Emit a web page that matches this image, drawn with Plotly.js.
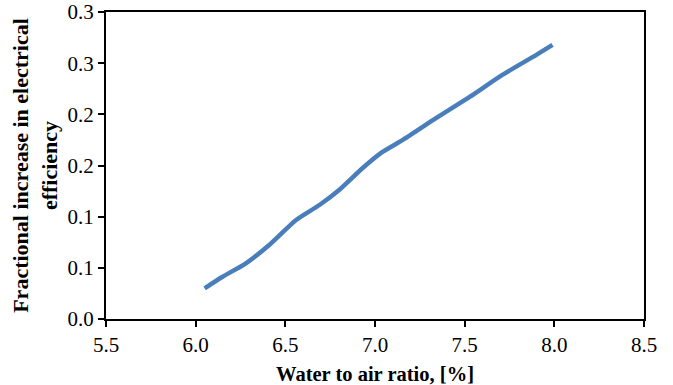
<!DOCTYPE html>
<html>
<head>
<meta charset="utf-8">
<script src="https://cdn.plot.ly/plotly-3.0.1.min.js"></script>
<style>html,body{margin:0;padding:0;background:#fff;}#chart{width:673px;height:385px;}</style>
</head>
<body>
<div id="chart"></div>
<script>
const waterToAir = [6.05, 6.15, 6.28, 6.41, 6.56, 6.69, 6.80, 6.93, 7.04, 7.155, 7.34, 7.53, 7.71, 7.90, 7.99];
const efficiencyIncrease = [0.0300, 0.0413, 0.0544, 0.0723, 0.0968, 0.1114, 0.1261, 0.1473, 0.1630, 0.1750, 0.1962, 0.2173, 0.2385, 0.2581, 0.2678];
const yTickVals = [0, 0.05, 0.10, 0.15, 0.20, 0.25, 0.30];
const yTickText = ["0.0", "0.1", "0.1", "0.2", "0.2", "0.3", "0.3"];
const xTickVals = [5.5, 6.0, 6.5, 7.0, 7.5, 8.0, 8.5];
const xTickText = ["5.5", "6.0", "6.5", "7.0", "7.5", "8.0", "8.5"];

const fam = "Liberation Serif, Times New Roman, serif";
const tickFont = {family: fam, size: 21, color: "#000"};
Plotly.newPlot("chart", [{
  x: waterToAir, y: efficiencyIncrease, type: "scatter", mode: "lines",
  line: {color: "#4A7EBB", width: 4.5, shape: "spline", smoothing: 0.6},
  hoverinfo: "none"
}], {
  width: 673, height: 385,
  margin: {l: 106, r: 29, t: 12, b: 66},
  paper_bgcolor: "#fff", plot_bgcolor: "#fff",
  showlegend: false,
  font: tickFont,
  xaxis: {
    range: [5.5, 8.5], tickvals: xTickVals, ticktext: xTickText,
    showgrid: false, zeroline: false,
    showline: true, mirror: true, linecolor: "#000", linewidth: 2,
    ticks: "outside", ticklen: 6, tickwidth: 2, tickcolor: "#000",
    tickfont: tickFont,
    title: {text: "<b>Water to air ratio, [%]</b>", font: {family: fam, size: 20.5, color: "#000"}, standoff: 11}
  },
  yaxis: {
    range: [0, 0.3], tickvals: yTickVals, ticktext: yTickText,
    showgrid: false, zeroline: false,
    showline: true, mirror: true, linecolor: "#000", linewidth: 2,
    ticks: "outside", ticklen: 6, tickwidth: 2, tickcolor: "#000",
    tickfont: tickFont,
    title: {text: "<b>Fractional increase in electrical<br>efficiency</b>", font: {family: fam, size: 22, color: "#000"}, standoff: 4}
  }
}, {staticPlot: true});
</script>
</body>
</html>
